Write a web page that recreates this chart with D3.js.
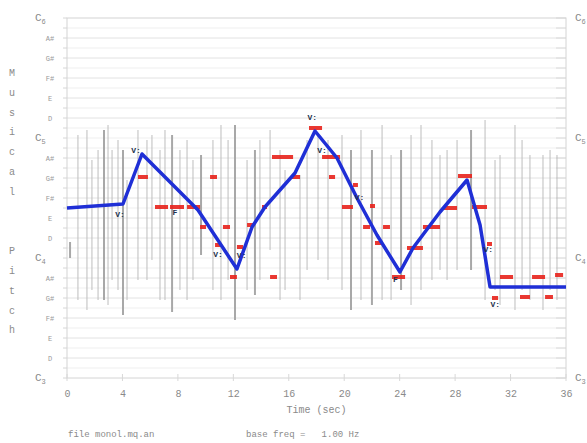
<!DOCTYPE html>
<html>
<head>
<meta charset="utf-8">
<script src="https://cdn.jsdelivr.net/npm/d3@7"></script>
<style>
  html, body { margin: 0; padding: 0; background: #fff; }
  svg { display: block; }
  text { font-family: "Liberation Mono", "DejaVu Sans Mono", monospace; }
</style>
</head>
<body>
<svg id="chart" width="587" height="443"></svg>
<script>
// Pitch range in MIDI numbers (C3 = 48 ... C6 = 84), time in seconds
const timeTicks = [0, 4, 8, 12, 16, 20, 24, 28, 32, 36];
const octaveNotes = [48, 60, 72, 84];
const octaveNames = ["3", "4", "5", "6"];
const noteTicks = [50, 52, 54, 56, 58, 62, 64, 66, 68, 70, 74, 76, 78, 80, 82];
const noteNames = ["D", "E", "F#", "G#", "A#", "D", "E", "F#", "G#", "A#", "D", "E", "F#", "G#", "A#"];

// Smoothed melodic contour (blue)
const contourT = [0, 4.04, 5.41, 8.51, 9.45, 12.26, 13.35, 14.28, 16.45, 17.89, 19.48, 20.92, 22.36, 24.02, 24.96, 26.91, 28.86, 29.80, 30.52, 36];
const contourP = [65.0, 65.4, 70.4, 66.1, 64.8, 58.9, 63.1, 65.1, 68.5, 72.7, 70.0, 66.0, 62.3, 58.6, 61.0, 64.6, 67.8, 63.3, 57.1, 57.1];

// Raw pitch-trace strokes (gray): time, upper pitch, lower pitch, heavy flag
const traceT = [0.22, 0.79, 1.44, 1.80, 2.24, 2.67, 2.96, 3.25, 3.68, 4.04, 4.33, 5.12, 5.77, 6.13, 6.71, 7.07, 7.58, 8.15, 8.66, 9.09, 9.67, 10.53, 11.11, 11.62, 12.12, 12.99, 13.56, 13.92, 14.65, 15.37, 15.73, 16.81, 17.32, 18.11, 18.83, 19.84, 20.49, 21.21, 22.00, 22.73, 23.38, 24.10, 24.82, 25.54, 26.33, 26.91, 27.42, 28.14, 29.15, 30.16, 30.88, 31.24, 32.32, 32.83, 33.40, 34.34, 34.85, 35.35];
const traceTop = [61.6, 72.3, 72.8, 69.8, 70.8, 72.8, 73.3, 70.8, 71.8, 70.8, 67.8, 72.8, 71.8, 72.3, 70.8, 72.8, 72.3, 70.8, 71.8, 69.8, 70.3, 71.8, 73.3, 71.8, 73.3, 69.8, 70.8, 71.8, 72.8, 70.8, 68.8, 68.3, 71.8, 72.3, 71.8, 72.3, 70.8, 72.8, 70.8, 73.3, 70.3, 70.8, 72.3, 73.3, 71.8, 70.3, 70.8, 71.8, 72.8, 73.8, 69.8, 70.3, 73.3, 71.8, 70.3, 70.3, 70.8, 70.3];
const traceBot = [60.0, 55.8, 54.8, 56.8, 55.8, 55.8, 55.3, 57.8, 56.8, 54.3, 55.8, 57.8, 57.8, 59.8, 55.8, 55.8, 54.6, 56.8, 55.8, 57.8, 60.3, 56.8, 55.8, 57.8, 53.8, 56.8, 56.3, 57.8, 60.8, 55.8, 56.8, 55.8, 58.8, 59.8, 57.8, 56.8, 54.8, 55.8, 55.3, 55.8, 55.8, 56.8, 55.3, 56.8, 57.8, 58.8, 57.8, 58.8, 58.8, 55.8, 56.8, 55.3, 54.8, 56.8, 55.8, 54.8, 56.8, 55.8];
const traceHeavy = [1, 0, 0, 0, 0, 1, 0, 0, 0, 1, 0, 0, 0, 0, 0, 0, 1, 0, 0, 0, 1, 0, 0, 0, 1, 0, 1, 0, 0, 0, 0, 0, 0, 0, 0, 0, 1, 0, 1, 0, 0, 1, 0, 0, 0, 0, 0, 0, 1, 0, 0, 0, 0, 0, 0, 0, 0, 0];

// Detected notes (red): start, end, pitch
const noteStart = [5.12, 6.35, 7.43, 8.66, 9.60, 10.32, 10.68, 11.25, 11.76, 12.26, 12.99, 14.07, 14.79, 16.23, 14.65, 17.46, 18.40, 18.90, 19.84, 20.63, 21.36, 21.86, 22.22, 22.80, 23.45, 24.53, 25.68, 27.13, 28.21, 29.22, 30.30, 30.66, 31.24, 32.68, 33.55, 34.49, 35.21];
const noteEnd = [5.84, 7.29, 8.44, 9.60, 10.03, 10.82, 11.18, 11.76, 12.26, 12.70, 13.42, 14.43, 16.31, 16.81, 15.15, 18.40, 19.70, 19.34, 20.63, 20.99, 21.86, 22.22, 22.73, 23.30, 24.39, 25.68, 26.91, 28.14, 29.22, 30.30, 30.66, 31.10, 32.18, 33.40, 34.49, 35.06, 35.79];
const notePitch = [68.1, 65.1, 65.1, 65.1, 63.1, 68.1, 61.3, 63.1, 58.1, 61.1, 63.3, 65.1, 70.1, 68.1, 58.1, 73.0, 70.1, 68.1, 65.1, 67.3, 63.1, 65.2, 61.5, 63.1, 58.1, 61.0, 63.1, 65.0, 68.2, 65.1, 61.4, 56.0, 58.1, 56.1, 58.1, 56.1, 58.3];

// Event markers along the contour
const markT = [3.82, 4.98, 7.79, 10.9, 12.6, 17.7, 18.4, 21.1, 23.7, 30.4, 30.9];
const markP = [64.1, 70.5, 64.3, 60.1, 60.0, 73.8, 70.5, 65.8, 57.6, 60.6, 55.1];
const markText = ["V:", "V:", "F", "V:", "V:", "V:", "V:", "V:", "F", "V:", "V:"];

const svg = d3.select("#chart");
const x = d3.scaleLinear().domain([0, 36]).range([67, 566]);
const y = d3.scaleLinear().domain([48, 84]).range([378, 18]);

const grid = svg.append("g");
// semitone grid lines
grid.selectAll("line.semi").data(d3.range(49, 84)).join("line")
  .attr("x1", x(0)).attr("x2", x(36))
  .attr("y1", d => y(d)).attr("y2", d => y(d))
  .attr("stroke", d => noteTicks.includes(d) ? "#e2e2e2" : "#efefef")
  .attr("stroke-width", 1);
// short ticks on both sides
grid.selectAll("line.ltick").data(d3.range(48, 85)).join("line")
  .attr("x1", x(0) - 4).attr("x2", x(0))
  .attr("y1", d => y(d)).attr("y2", d => y(d))
  .attr("stroke", "#d6d6d6");
grid.selectAll("line.rtick").data(d3.range(48, 85)).join("line")
  .attr("x1", x(36) - 10).attr("x2", x(36))
  .attr("y1", d => y(d)).attr("y2", d => y(d))
  .attr("stroke", "#dadada");
// frame
grid.append("rect")
  .attr("x", x(0)).attr("y", y(84))
  .attr("width", x(36) - x(0)).attr("height", y(48) - y(84))
  .attr("fill", "none").attr("stroke", "#d4d4d4");

// bottom time axis
const xAxis = d3.axisBottom(x).tickValues(timeTicks).tickSize(0).tickPadding(12);
const xg = svg.append("g").attr("transform", `translate(0,${y(48)})`).call(xAxis);
xg.select(".domain").remove();
xg.selectAll("text").attr("fill", "#8a8a8a").attr("font-size", 10);
svg.append("g").selectAll("line").data(timeTicks).join("line")
  .attr("x1", d => x(d)).attr("x2", d => x(d))
  .attr("y1", y(48) - 4).attr("y2", y(48) + 3)
  .attr("stroke", "#d8d8d8");

// left pitch labels
svg.append("g").selectAll("text").data(noteTicks).join("text")
  .attr("x", 50).attr("y", d => y(d) + 3)
  .attr("text-anchor", "middle")
  .attr("font-size", 7).attr("fill", "#999")
  .text((d, i) => noteNames[i]);

function octaveLabel(g, xPos, d, i) {
  const t = g.append("text").attr("x", xPos).attr("y", y(d) + 3)
    .attr("fill", "#8a8a8a").attr("font-size", 11);
  t.append("tspan").text("C");
  t.append("tspan").attr("font-size", 7).attr("dy", 3).text(octaveNames[i]);
}
const oct = svg.append("g");
octaveNotes.forEach((d, i) => { octaveLabel(oct, 35, d, i); octaveLabel(oct, 575, d, i); });

// vertical axis title, one letter per row
const title = "Musical  Pitch".split("");
svg.append("g").selectAll("text").data(title).join("text")
  .attr("x", 12).attr("y", (d, i) => 76 + i * 19.8)
  .attr("text-anchor", "middle")
  .attr("font-size", 10).attr("fill", "#8a8a8a")
  .text(d => d);

svg.append("text").attr("x", x(18)).attr("y", 413)
  .attr("text-anchor", "middle").attr("font-size", 10).attr("fill", "#8a8a8a")
  .text("Time (sec)");
svg.append("text").attr("x", 68).attr("y", 437)
  .attr("font-size", 9).attr("fill", "#8a8a8a").attr("xml:space", "preserve")
  .text("file monol.mq.an");
svg.append("text").attr("x", 246).attr("y", 437)
  .attr("font-size", 9).attr("fill", "#8a8a8a").attr("xml:space", "preserve")
  .text("base freq =   1.00 Hz");

// gray pitch trace
svg.append("g").selectAll("line").data(traceT).join("line")
  .attr("x1", d => x(d)).attr("x2", d => x(d))
  .attr("y1", (d, i) => y(traceTop[i])).attr("y2", (d, i) => y(traceBot[i]))
  .attr("stroke", (d, i) => traceHeavy[i] ? "#a8a8a8" : "#bdbdbd")
  .attr("stroke-width", (d, i) => traceHeavy[i] ? 2 : 1);

// red note segments
svg.append("g").selectAll("line").data(noteStart).join("line")
  .attr("x1", d => x(d)).attr("x2", (d, i) => x(noteEnd[i]))
  .attr("y1", (d, i) => y(notePitch[i])).attr("y2", (d, i) => y(notePitch[i]))
  .attr("stroke", "#e8231c").attr("stroke-width", 4).attr("opacity", 0.9);

// blue contour
const line = d3.line().x(d => x(d[0])).y(d => y(d[1]));
svg.append("path")
  .datum(contourT.map((t, i) => [t, contourP[i]]))
  .attr("d", line)
  .attr("fill", "none").attr("stroke", "#1f2fd6")
  .attr("stroke-width", 3.5).attr("stroke-linejoin", "round");

// markers
svg.append("g").selectAll("text").data(markT).join("text")
  .attr("x", d => x(d)).attr("y", (d, i) => y(markP[i]))
  .attr("text-anchor", "middle")
  .attr("font-family", "DejaVu Sans")
  .attr("font-size", 8).attr("font-weight", "bold").attr("fill", "#23304a")
  .text((d, i) => markText[i]);
</script>
</body>
</html>
